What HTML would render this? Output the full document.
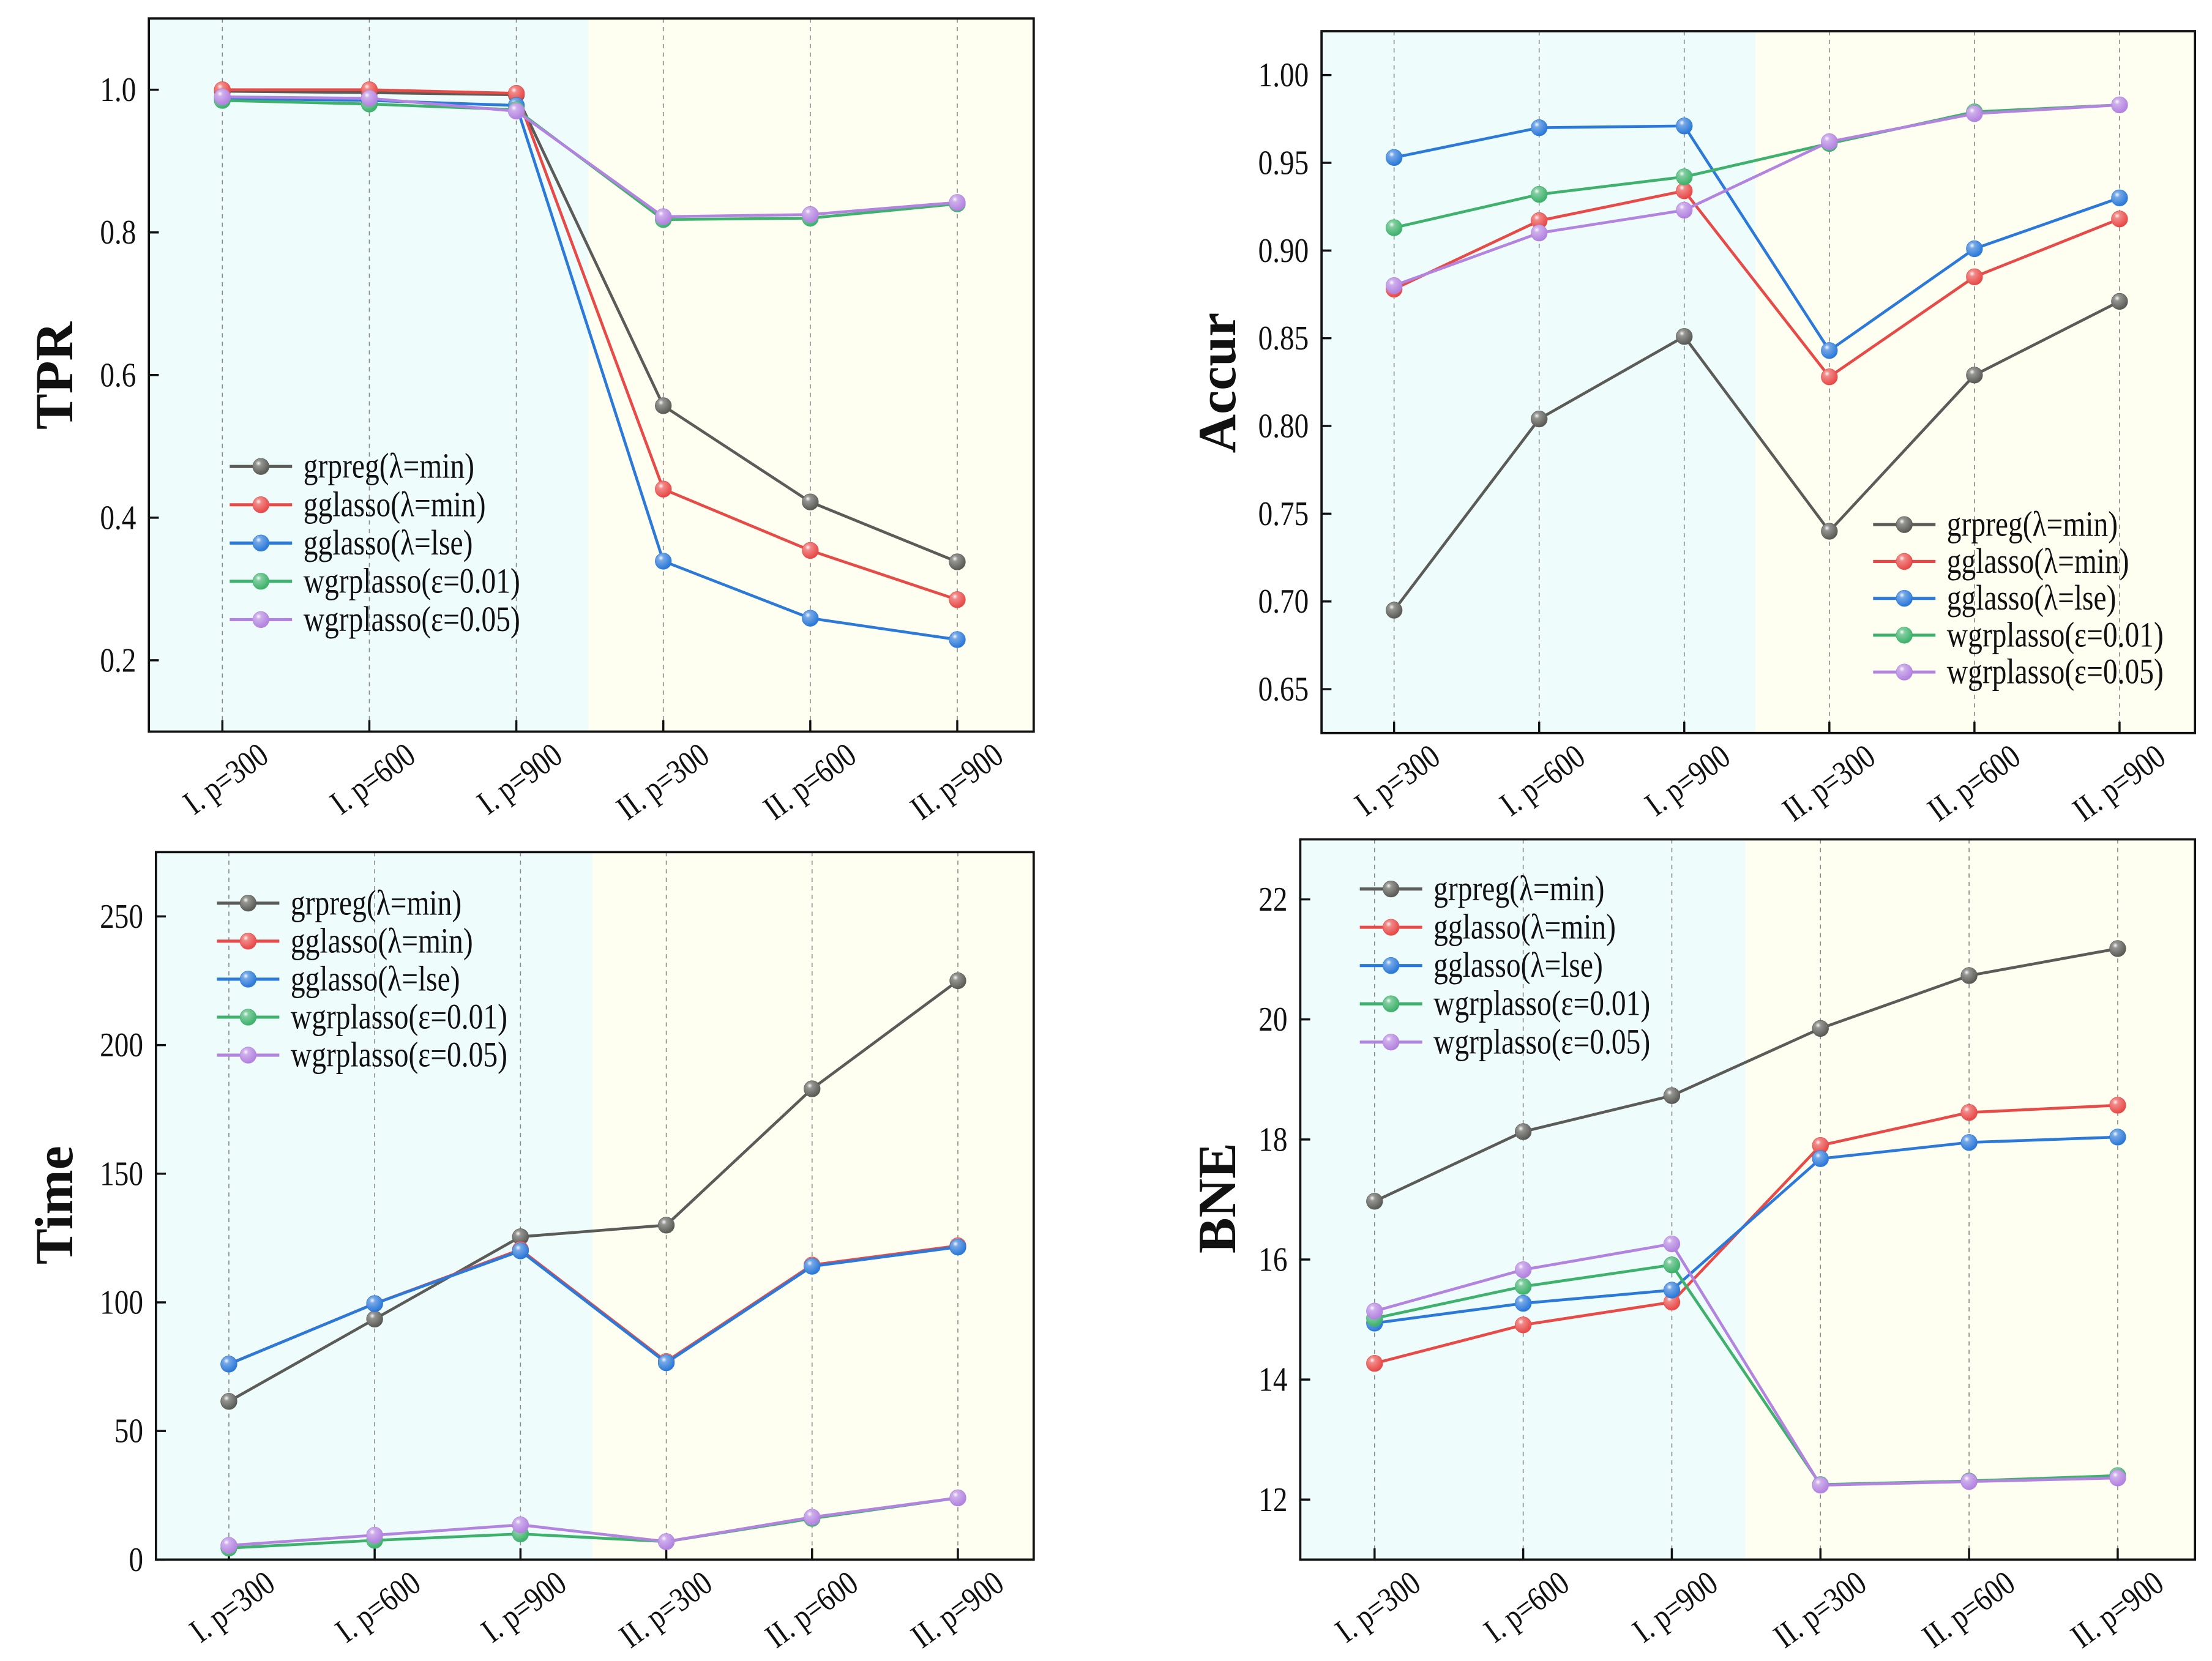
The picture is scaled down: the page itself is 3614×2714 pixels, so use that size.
<!DOCTYPE html>
<html><head><meta charset="utf-8"><style>
html,body{margin:0;padding:0;background:#fff}
svg{display:block}
text{font-family:"Liberation Serif",serif;fill:#111}
</style></head><body>
<svg id="fig" width="3614" height="2714" viewBox="0 0 1560 1171.5" xmlns="http://www.w3.org/2000/svg">
<defs>
<radialGradient id="hl" cx="0.35" cy="0.3" r="0.7">
<stop offset="0" stop-color="#fff" stop-opacity="0.95"/>
<stop offset="0.25" stop-color="#fff" stop-opacity="0.35"/>
<stop offset="1" stop-color="#fff" stop-opacity="0"/>
</radialGradient>
</defs>
</svg>
<script>
const categories=["I. p=300","I. p=600","I. p=900","II. p=300","II. p=600","II. p=900"];
const seriesNames=["grpreg(λ=min)","gglasso(λ=min)","gglasso(λ=lse)","wgrplasso(ε=0.01)","wgrplasso(ε=0.05)"];
const seriesColors=["#5b5c57","#e84a48","#2b79d9","#3eb26c","#b383e0"];
const tprGrpreg=[0.998,0.996,0.993,0.557,0.422,0.338];
const tprGgMin=[1.0,1.0,0.995,0.44,0.354,0.285];
const tprGgLse=[0.988,0.985,0.978,0.339,0.259,0.229];
const tprW01=[0.985,0.98,0.972,0.818,0.82,0.84];
const tprW05=[0.99,0.988,0.97,0.822,0.825,0.842];
const tprTicks=[0.2,0.4,0.6,0.8,1.0];
const accGrpreg=[0.695,0.804,0.851,0.740,0.829,0.871];
const accGgMin=[0.878,0.917,0.934,0.828,0.885,0.918];
const accGgLse=[0.953,0.970,0.971,0.843,0.901,0.930];
const accW01=[0.913,0.932,0.942,0.961,0.979,0.983];
const accW05=[0.880,0.910,0.923,0.962,0.978,0.983];
const accTicks=[0.65,0.70,0.75,0.80,0.85,0.90,0.95,1.00];
const timeGrpreg=[61.5,93.5,125.5,130,183,225];
const timeGgMin=[76,99.5,120.5,77,114.5,122];
const timeGgLse=[76,99.5,120,76.5,114,121.5];
const timeW01=[4.5,7.5,10,7,16,24];
const timeW05=[5.5,9.5,13.5,7,16.5,24];
const timeTicks=[0,50,100,150,200,250];
const bneGrpreg=[16.97,18.13,18.73,19.85,20.73,21.18];
const bneGgMin=[14.27,14.91,15.29,17.9,18.45,18.57];
const bneGgLse=[14.94,15.27,15.49,17.68,17.95,18.04];
const bneW01=[15.02,15.55,15.91,12.25,12.31,12.4];
const bneW05=[15.14,15.83,16.26,12.24,12.3,12.36];
const bneTicks=[12,14,16,18,20,22];

const NS="http://www.w3.org/2000/svg";
const svg=document.getElementById('fig');
function mk(tag,attrs,parent){const e=document.createElementNS(NS,tag);for(const k in attrs)e.setAttribute(k,attrs[k]);(parent||svg).appendChild(e);return e;}

const panels=[
 {key:'tpr',label:'TPR',x0:105,x1:729,y0:13,y1:516,min:0.1,max:1.1,split:415,ticks:tprTicks,fmt:v=>v.toFixed(1),
  series:[tprGrpreg,tprGgMin,tprGgLse,tprW01,tprW05],leg:{x:162,y:329,dy:27},lab:{x:38,y:265}},
 {key:'accur',label:'Accur',x0:932,x1:1548,y0:22,y1:517,min:0.625,max:1.025,split:1238,ticks:accTicks,fmt:v=>v.toFixed(2),
  series:[accGrpreg,accGgMin,accGgLse,accW01,accW05],leg:{x:1321,y:370,dy:26},lab:{x:858,y:270}},
 {key:'time',label:'Time',x0:110,x1:729,y0:601,y1:1100,min:0,max:275,split:418,ticks:timeTicks,fmt:v=>String(v),
  series:[timeGrpreg,timeGgMin,timeGgLse,timeW01,timeW05],leg:{x:153,y:637,dy:26.8},lab:{x:38,y:850}},
 {key:'bne',label:'BNE',x0:917,x1:1548,y0:592,y1:1100,min:11,max:23,split:1231,ticks:bneTicks,fmt:v=>String(v),
  series:[bneGrpreg,bneGgMin,bneGgLse,bneW01,bneW05],leg:{x:959,y:627,dy:27},lab:{x:858,y:845}}
];

function marker(g,cx,cy,color){
  const c=mk('circle',{cx:cx,cy:cy,r:5.6,fill:color,stroke:color,'stroke-width':0.6},g);
  mk('circle',{cx:cx,cy:cy,r:5.6,fill:'url(#hl)'},g);
  return c;
}

panels.forEach(p=>{
  const g=mk('g',{});
  
  
  const w=p.x1-p.x0;
  const step=w/6.02;
  const xs=i=>p.x0+step*(i+0.5);
  const ys=v=>p.y1-(v-p.min)/(p.max-p.min)*(p.y1-p.y0);
  const bg1=mk('rect',{x:p.x0,y:p.y0,width:p.split-p.x0,height:p.y1-p.y0,fill:'#effcfc'},g);
  
  
  const bg2=mk('rect',{x:p.split,y:p.y0,width:p.x1-p.split,height:p.y1-p.y0,fill:'#fffff1'},g);
  
  
  categories.forEach((c,i)=>{
    const x=xs(i);
    const gl=mk('line',{x1:x,x2:x,y1:p.y0,y2:p.y1,stroke:'#8a8a8a','stroke-width':0.7,'stroke-dasharray':'3,3'},g);
    
    
    mk('line',{x1:x,x2:x,y1:p.y1,y2:p.y1-8,stroke:'#111','stroke-width':1.5},g);
    const tx=x+34, ty=p.y1+20;
    const t=mk('text',{x:0,y:0,'font-size':24,'text-anchor':'end',transform:`translate(${tx} ${ty}) rotate(-36) scale(0.82 1)`},g);
    t.textContent=c;
    
    
  });
  p.ticks.forEach(v=>{
    const y=ys(v);
    mk('line',{x1:p.x0,x2:p.x0+7,y1:y,y2:y,stroke:'#111','stroke-width':1.5},g);
    const t=mk('text',{x:0,y:0,'font-size':24,'text-anchor':'end',transform:`translate(${p.x0-9} ${y+8}) scale(0.85 1)`},g);
    t.textContent=p.fmt(v);
    
    
  });
  const fr=mk('rect',{x:p.x0,y:p.y0,width:w,height:p.y1-p.y0,fill:'none',stroke:'#111','stroke-width':1.6},g);
  
  
  const yl=mk('text',{x:p.lab.x+13,y:p.lab.y,'font-size':38,'font-weight':'bold','text-anchor':'middle',transform:`rotate(-90 ${p.lab.x+13} ${p.lab.y})`},g);
  yl.textContent=p.label;
  
  
  p.series.forEach((vals,si)=>{
    const sg=mk('g',{},g);
    
    
    const pts=vals.map((v,i)=>xs(i)+','+ys(v)).join(' ');
    const pl=mk('polyline',{points:pts,fill:'none',stroke:seriesColors[si],'stroke-width':2},sg);
    
    
    vals.forEach((v,i)=>{
      const m=marker(sg,xs(i),ys(v),seriesColors[si]);
      
      
    });
  });
  const lg=mk('g',{},g);
  
  
  seriesNames.forEach((nm,si)=>{
    const y=p.leg.y+si*p.leg.dy;
    const eg=mk('g',{},lg);
    
    
    mk('line',{x1:p.leg.x,x2:p.leg.x+44,y1:y,y2:y,stroke:seriesColors[si],'stroke-width':2.2},eg);
    marker(eg,p.leg.x+22,y,seriesColors[si]);
    const t=mk('text',{x:0,y:0,'font-size':25,transform:`translate(${p.leg.x+52} ${y+8}) scale(0.82 1)`},eg);
    t.textContent=nm;
  });
});
</script>
</body></html>
